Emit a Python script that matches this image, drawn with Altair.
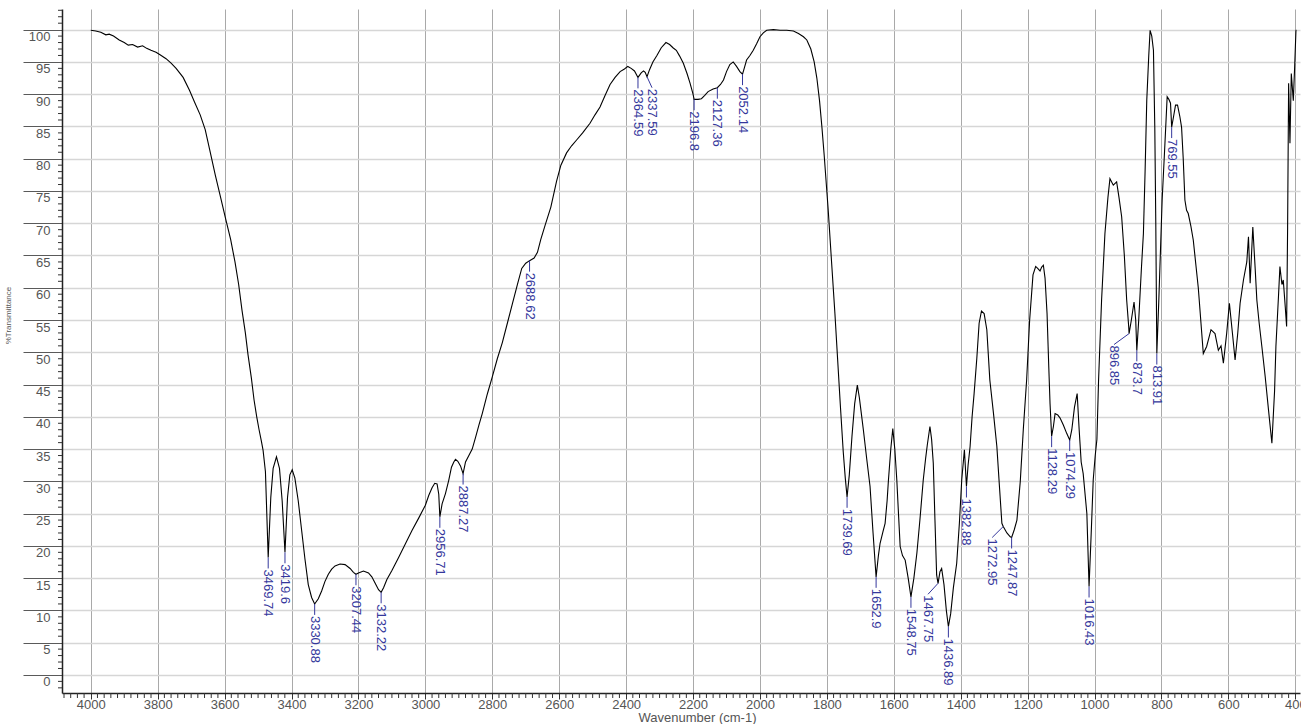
import altair as alt
import pandas as pd

# Spectrum: wavenumber (cm-1) and %Transmittance
wavenumber = [
    4000, 3985, 3970, 3955, 3945, 3932, 3915, 3900, 3888, 3875, 3860, 3845, 3833, 3820, 3805, 3793,
    3775, 3760, 3745, 3724, 3705, 3690, 3673, 3658, 3645, 3628, 3612, 3596, 3582, 3569, 3558, 3548,
    3538, 3530, 3520, 3512, 3504, 3497, 3490, 3485, 3478, 3469.74, 3462, 3455, 3445, 3436, 3428,
    3419.6, 3412, 3405, 3398, 3390, 3380, 3370, 3360, 3350, 3340, 3330.88, 3320, 3310, 3300, 3290,
    3280, 3270, 3255, 3240, 3225, 3215, 3207.44, 3200, 3185, 3170, 3160, 3150, 3140, 3132.22, 3125,
    3115, 3100, 3080, 3060, 3040, 3020, 3000, 2990, 2980, 2972, 2965, 2960, 2956.71, 2950, 2940,
    2930, 2922, 2915, 2910, 2903, 2895, 2887.27, 2880, 2870, 2860, 2850, 2840, 2830, 2815, 2800,
    2785, 2770, 2755, 2740, 2725, 2712, 2700, 2688.62, 2675, 2665, 2655, 2642, 2625, 2608, 2595,
    2578, 2563, 2548, 2530, 2508, 2493, 2478, 2463, 2448, 2433, 2418, 2405, 2395, 2385, 2375,
    2364.59, 2355, 2348, 2343, 2337.59, 2330, 2320, 2308, 2295, 2281, 2270, 2260, 2250, 2240, 2229,
    2218, 2209, 2200, 2196.8, 2185, 2175, 2165, 2155, 2140, 2127.36, 2118, 2109, 2100, 2090, 2080,
    2070, 2060, 2052.14, 2046, 2040, 2030, 2020, 2010, 2000, 1990, 1980, 1960, 1940, 1920, 1900,
    1885, 1870, 1860, 1848, 1838, 1830, 1822, 1815, 1808, 1796, 1786, 1776, 1768, 1760, 1751, 1745,
    1739.69, 1733, 1725, 1717, 1709, 1703, 1697, 1691, 1681, 1671, 1662, 1652.9, 1646, 1641, 1632,
    1626, 1620, 1616, 1609, 1603, 1597, 1591, 1586, 1581, 1574, 1566, 1557, 1548.75, 1540, 1531,
    1522, 1512, 1505, 1500, 1492, 1487, 1482, 1477, 1472, 1467.75, 1462, 1457, 1450, 1443, 1436.89,
    1430, 1422, 1412, 1404, 1397, 1389, 1382.88, 1378, 1372, 1366, 1360, 1352, 1345, 1338, 1330,
    1322, 1313, 1302, 1292, 1284, 1277, 1272.95, 1262, 1252, 1247.87, 1240, 1232, 1222, 1213, 1203,
    1194, 1184, 1176, 1170, 1163, 1158, 1153, 1148, 1142, 1137, 1133, 1128.29, 1123, 1118, 1110,
    1103, 1093, 1083, 1074.29, 1068, 1060, 1052, 1046, 1040, 1034, 1023, 1016.43, 1010, 1004, 998,
    993, 988, 979, 969, 960, 954, 944, 934, 927, 919, 911, 904, 898, 896.85, 890, 882, 877, 873.7,
    868, 860, 854, 849, 844, 838, 834, 829, 824, 820, 817, 813.91, 808, 798, 790, 783, 778, 773,
    769.55, 764, 758, 752, 745, 740, 735, 730, 725, 720, 712, 705, 690, 675, 665, 652, 640, 630,
    622, 615, 605, 597, 588, 580, 572, 565, 555, 545, 540, 535, 527, 520, 515, 508, 500, 490, 480,
    470, 462, 458, 450, 446, 440, 436, 430, 426, 423, 420, 416, 412, 406, 402, 398,
]
transmittance = [
    99.9, 99.8, 99.6, 99.2, 99.3, 99.0, 98.4, 98.0, 97.6, 97.7, 97.3, 97.5, 97.1, 96.8, 96.5, 96.1,
    95.5, 94.8, 94.0, 92.6, 90.6, 88.8, 86.8, 84.5, 81.5, 77.5, 74.0, 70.5, 67.5, 64.0, 60.5, 56.5,
    53.0, 49.6, 46.0, 42.6, 40.0, 38.0, 36.2, 34.8, 31.5, 18.2, 27.5, 32.0, 33.8, 32.0, 27.0,
    19.0, 27.5, 31.0, 31.8, 30.5, 27.0, 22.5, 18.0, 14.0, 12.0, 11.0, 11.8, 13.0, 14.5, 15.6,
    16.4, 16.9, 17.2, 17.1, 16.5, 15.9, 15.6, 15.8, 16.1, 15.8, 15.2, 14.2, 13.2, 12.8, 13.5,
    14.8, 16.2, 18.2, 20.3, 22.4, 24.3, 26.3, 27.8, 29.0, 29.7, 29.6, 28.0, 24.5, 26.5, 28.1,
    30.2, 32.2, 33.0, 33.4, 33.1, 32.4, 31.2, 33.0, 34.0, 35.0, 36.8, 38.7, 40.5, 43.5, 46.2,
    49.0, 51.5, 54.5, 57.5, 60.5, 63.0, 63.8, 64.2, 64.6, 65.5, 67.5, 69.7, 72.5, 76.5, 79.0,
    80.9, 82.0, 82.9, 84.0, 85.5, 86.8, 88.0, 89.8, 91.5, 92.6, 93.5, 93.9, 94.3, 94.0, 93.6,
    92.6, 93.3, 93.6, 93.4, 92.7, 93.8, 95.0, 96.0, 97.2, 98.0, 97.7, 97.2, 96.8, 95.9, 94.8,
    93.2, 91.7, 90.0, 89.2, 89.2, 89.3, 89.8, 90.4, 90.8, 91.0, 91.5, 92.2, 93.5, 94.6, 95.0,
    94.3, 93.5, 93.1, 94.2, 95.3, 96.0, 96.8, 97.8, 98.9, 99.5, 99.9, 100.0, 99.9, 99.9, 99.8,
    99.4, 98.9, 98.4, 97.0, 95.0, 92.5, 89.0, 85.0, 80.5, 72.0, 64.0, 56.0, 49.0, 42.0, 34.5, 30.5,
    27.6, 31.0, 37.0, 42.0, 44.9, 43.0, 40.5, 38.0, 33.5, 29.2, 22.0, 15.2, 18.5, 20.4, 22.3,
    23.5, 27.0, 30.2, 35.0, 38.2, 35.0, 30.2, 25.0, 19.9, 18.5, 17.8, 15.0, 12.1, 15.0, 18.9,
    24.0, 30.2, 33.5, 35.6, 38.5, 36.5, 32.8, 24.0, 15.5, 14.2, 16.0, 16.5, 14.0, 10.0, 7.5,
    9.5, 13.5, 17.3, 23.5, 30.2, 34.9, 29.2, 32.5, 35.4, 40.0, 43.6, 49.0, 54.5, 56.4, 56.0,
    53.5, 45.7, 40.5, 35.4, 29.0, 23.5, 23.0, 22.0, 21.4, 21.3, 22.5, 24.0, 30.0, 38.0, 45.7,
    55.0, 62.0, 63.3, 63.0, 62.6, 63.2, 63.5, 61.5, 56.0, 48.0, 42.0, 37.0, 38.5, 40.5, 40.3,
    39.8, 38.7, 37.4, 36.4, 38.0, 41.5, 43.6, 38.0, 33.0, 31.2, 25.0, 13.7, 22.0, 30.2, 34.0,
    36.5, 45.7, 58.1, 68.4, 74.0, 76.9, 75.9, 76.4, 74.0, 71.0, 65.0, 58.1, 54.0, 52.9, 55.0, 57.8, 55.0, 50.3,
    55.0, 63.0, 68.4, 78.0, 89.0, 96.0, 99.9, 99.0, 96.8, 85.0, 70.0, 49.8, 58.0, 73.6, 82.0, 89.6, 89.2, 88.6,
    84.9, 86.5, 88.3, 88.3, 86.5, 84.9, 80.0, 73.6, 72.0, 71.5, 69.5, 67.4, 60.0, 49.8, 50.9, 53.5, 52.9, 50.3,
    51.0, 48.3, 53.0, 57.6, 53.0, 48.8, 53.0, 57.6, 61.2, 64.0, 67.9, 60.7, 69.4, 63.0, 58.1, 54.5, 50.9, 46.2, 41.0,
    35.9, 44.0, 50.9, 59.0, 63.3, 60.5, 61.2, 57.0, 54.0, 69.4, 91.7, 82.4, 93.2, 89.0, 94.2, 100.0,
]

# Marked absorption peaks (wavenumber and the printed label)
peak_wavenumber = [
    3469.74, 3419.6, 3330.88, 3207.44, 3132.22, 2956.71, 2887.27, 2688.62, 2364.59, 2337.59,
    2196.8, 2127.36, 2052.14, 1739.69, 1652.9, 1548.75, 1467.75, 1436.89, 1382.88, 1272.95,
    1247.87, 1128.29, 1074.29, 1016.43, 896.85, 873.7, 813.91, 769.55,
]
peak_text = [
    "3469.74", "3419.6", "3330.88", "3207.44", "3132.22", "2956.71", "2887.27", "2688.62",
    "2364.59", "2337.59", "2196.8", "2127.36", "2052.14", "1739.69", "1652.9", "1548.75",
    "1467.75", "1436.89", "1382.88", "1272.95", "1247.87", "1128.29", "1074.29", "1016.43",
    "896.85", "873.7", "813.91", "769.55",
]

# Labels whose leader bends sideways to clear a neighbour (shift in cm-1)
label_shift = {"2337.59": -15, "1467.75": 30, "1272.95": 33, "896.85": 45}

x_ticks = list(range(4000, 399, -200))
y_ticks = list(range(0, 101, 5))

spec_df = pd.DataFrame({"wn": wavenumber, "t": transmittance})
t_at = dict(zip(wavenumber, transmittance))
peak_df = pd.DataFrame({
    "wn": peak_wavenumber,
    "label": peak_text,
    "t": [t_at[w] for w in peak_wavenumber],
    "wn_lab": [w + label_shift.get(s, 0) for w, s in zip(peak_wavenumber, peak_text)],
})
peak_df["t_end"] = peak_df["t"] - 1.7

x_minor_df = pd.DataFrame({"v": [v for v in range(4080, 399, -20) if v % 200 != 0]})
y_minor_df = pd.DataFrame({"v": [v for v in range(-2, 104) if v % 5 != 0]})

x_scale = alt.Scale(domain=[4086, 386], nice=False, zero=False)
y_scale = alt.Scale(domain=[-2.8, 103.2], nice=False, zero=False)

FONT = "Liberation Sans"
LABEL_GREY = "#555555"
PEAK_BLUE = "#34379c"

x_axis = alt.Axis(
    values=x_ticks, format="d", grid=True, gridColor="#a9a9a9", gridWidth=1,
    tickSize=6, tickColor="#333333", domainColor="#222222", domainWidth=1.5,
    labelFont=FONT, labelFontSize=13, labelColor=LABEL_GREY, labelPadding=-1,
    labelFlush=False, labelOverlap=False,
    title="Wavenumber (cm-1)", titleFont=FONT, titleFontSize=13,
    titleFontWeight="normal", titleColor=LABEL_GREY,
    titleX=635, titleY=31, titleBaseline="bottom",
)
y_axis = alt.Axis(
    values=y_ticks, format="d", grid=True, gridColor="#d6d6d6", gridWidth=1.5,
    tickSize=39, tickColor="#5a5a5a", tickWidth=1.2, domainColor="#222222", domainWidth=1.5,
    labelFont=FONT, labelFontSize=13, labelColor=LABEL_GREY,
    labelPadding=-27, labelOffset=7, labelOverlap=False,
    title="%Transmittance", titleFont=FONT, titleFontSize=8,
    titleFontWeight="normal", titleColor=LABEL_GREY,
    titleX=-54, titleY=306, titleAngle=270, titleAlign="center", titleBaseline="middle",
)

# Every layer carries the same scale and axis definition so they merge cleanly
X = lambda f: alt.X(f, scale=x_scale, axis=x_axis)
Y = lambda f: alt.Y(f, scale=y_scale, axis=y_axis)

spectrum = alt.Chart(spec_df).mark_line(color="black", strokeWidth=1.1, clip=True).encode(
    x=X("wn:Q"), y=Y("t:Q"),
)

x_minor = alt.Chart(x_minor_df).mark_rule(color="#333333", strokeWidth=1).encode(
    x=X("v:Q"), y=alt.value(684), y2=alt.value(689),
)
y_minor = alt.Chart(y_minor_df).mark_rule(color="#333333", strokeWidth=1).encode(
    y=Y("v:Q"), x=alt.value(-4), x2=alt.value(0),
)

leaders = alt.Chart(peak_df).mark_rule(color=PEAK_BLUE, strokeWidth=1).encode(
    x=X("wn:Q"), y=Y("t:Q"), x2="wn_lab:Q", y2="t_end:Q",
)
labels = alt.Chart(peak_df).mark_text(
    angle=90, align="left", baseline="middle", dx=1,
    font=FONT, fontSize=13, color=PEAK_BLUE,
).encode(
    x=X("wn_lab:Q"), y=Y("t_end:Q"), text="label:N",
)

chart = alt.layer(spectrum, x_minor, y_minor, leaders, labels).properties(
    width=1238, height=684,
    autosize=alt.AutoSizeParams(type="none"),
    padding={"left": 62, "top": 9, "right": 1, "bottom": 31},
    background="white",
).configure_view(stroke=None)

chart.save("out.html", embed_options={"renderer": "svg", "actions": False})
